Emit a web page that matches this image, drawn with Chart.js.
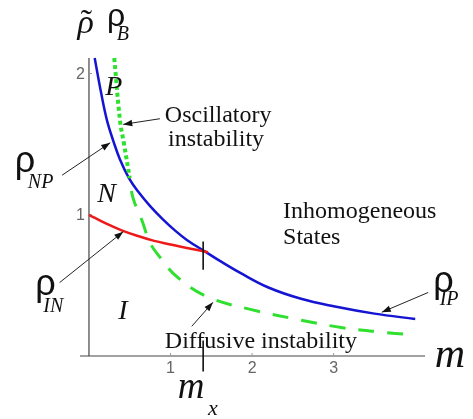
<!DOCTYPE html>
<html lang="en">
<head>
<meta charset="UTF-8">
<title>Phase diagram</title>
<script src="https://cdn.jsdelivr.net/npm/chart.js"></script>
<style>
  html, body { margin: 0; padding: 0; background: #fff; }
  canvas { display: block; }
</style>
</head>
<body>
<canvas id="phase" width="473" height="419"></canvas>
<script>
// boundary curves as (m, rho) pairs
const npipM   = [0.07, 0.15, 0.22, 0.30, 0.38, 0.49, 0.60, 0.75, 0.90, 1.05, 1.20, 1.43, 1.60, 1.85, 2.20, 2.60, 3.00, 3.50, 4.00];
const npipRho = [2.11, 1.86, 1.67, 1.52, 1.392, 1.26, 1.166, 1.061, 0.971, 0.891, 0.822, 0.737, 0.675, 0.59, 0.485, 0.405, 0.352, 0.30, 0.262];
const inM   = [0.00, 0.20, 0.40, 0.60, 0.80, 1.00, 1.20, 1.46];
const inRho = [1.00, 0.94, 0.89, 0.85, 0.815, 0.79, 0.765, 0.735];
const oscM   = [0.31, 0.38, 0.43, 0.50];
const oscRho = [2.11, 1.67, 1.50, 1.26];
const diffM   = [0.50, 0.54, 0.65, 0.75, 0.87, 1.08, 1.45, 1.98, 2.59, 3.11, 3.57, 3.95];
const diffRho = [1.26, 1.12, 0.96, 0.80, 0.70, 0.56, 0.42, 0.33, 0.255, 0.20, 0.17, 0.15];
const mx = 1.40;
const xTicks = [1, 2, 3];
const yTicks = [1, 2];

const pts = (xs, ys) => xs.map((x, i) => ({ x: x, y: ys[i] }));

const SERIF = '"Liberation Serif", "Times New Roman", serif';
const SANS = '"Liberation Sans", Arial, sans-serif';

// text placed in (m, rho) units
const notes = [
  { t: 'Oscillatory', m: 0.93, r: 1.66, f: '24px ' + SERIF },
  { t: 'instability', m: 0.97, r: 1.49, f: '24px ' + SERIF },
  { t: 'Inhomogeneous', m: 2.38, r: 0.98, f: '24px ' + SERIF },
  { t: 'States', m: 2.38, r: 0.79, f: '24px ' + SERIF },
  { t: 'Diffusive instability', m: 0.93, r: 0.06, f: '24px ' + SERIF },
  { t: 'P', m: 0.20, r: 1.85, f: 'italic 28px ' + SERIF },
  { t: 'N', m: 0.10, r: 1.09, f: 'italic 28px ' + SERIF },
  { t: 'I', m: 0.36, r: 0.26, f: 'italic 28px ' + SERIF },
  { t: 'm', m: 4.24, r: -0.08, f: 'italic 42px ' + SERIF },
  { t: 'm', m: 1.09, r: -0.30, f: 'italic 37px ' + SERIF },
  { t: 'x', m: 1.46, r: -0.42, f: 'italic 22px ' + SERIF },
  { t: 'ρ', m: -0.14, r: 2.29, f: 'italic 34px ' + SERIF },
  { t: '˜', m: -0.10, r: 2.29, f: '34px ' + SERIF },
  { t: 'ρ', m: 0.22, r: 2.34, f: '32px ' + SANS },
  { t: 'B', m: 0.34, r: 2.24, f: 'italic 20px ' + SERIF },
  { t: 'ρ', m: -0.91, r: 1.30, f: '36px ' + SANS },
  { t: 'NP', m: -0.75, r: 1.19, f: 'italic 20px ' + SERIF },
  { t: 'ρ', m: -0.66, r: 0.43, f: '36px ' + SANS },
  { t: 'IN', m: -0.56, r: 0.31, f: 'italic 20px ' + SERIF },
  { t: 'ρ', m: 4.22, r: 0.45, f: '36px ' + SANS },
  { t: 'IP', m: 4.30, r: 0.36, f: 'italic 20px ' + SERIF }
];

// pointer arrows: tail -> head, in (m, rho) units
const pointers = [
  [0.87, 1.68, 0.42, 1.64],
  [-0.33, 1.28, 0.26, 1.51],
  [-0.36, 0.52, 0.42, 0.88],
  [1.26, 0.21, 1.52, 0.38],
  [4.16, 0.45, 3.59, 0.31]
];

function arrow(ctx, x0, y0, x1, y1) {
  ctx.beginPath();
  ctx.moveTo(x0, y0);
  ctx.lineTo(x1, y1);
  ctx.stroke();
  const a = Math.atan2(y1 - y0, x1 - x0), L = 9, W = 3.2;
  ctx.beginPath();
  ctx.moveTo(x1, y1);
  ctx.lineTo(x1 - L * Math.cos(a) + W * Math.sin(a), y1 - L * Math.sin(a) - W * Math.cos(a));
  ctx.lineTo(x1 - L * Math.cos(a) - W * Math.sin(a), y1 - L * Math.sin(a) + W * Math.cos(a));
  ctx.closePath();
  ctx.fill();
}

const axesPlugin = {
  id: 'axesPlugin',
  beforeDatasetsDraw(chart) {
    const { ctx, scales: { x, y } } = chart;
    const x0 = x.getPixelForValue(0), y0 = y.getPixelForValue(0);
    ctx.save();
    ctx.strokeStyle = '#444';
    ctx.lineWidth = 1.2;
    ctx.beginPath();
    ctx.moveTo(x.left, y0); ctx.lineTo(x.right, y0);
    ctx.moveTo(x0, y0); ctx.lineTo(x0, y.top);
    ctx.stroke();

    ctx.fillStyle = '#666';
    ctx.strokeStyle = '#999';
    ctx.lineWidth = 1;
    ctx.font = '16px ' + SANS;
    ctx.textBaseline = 'middle';
    ctx.textAlign = 'center';
    xTicks.forEach(v => {
      const p = x.getPixelForValue(v);
      ctx.beginPath(); ctx.moveTo(p, y0); ctx.lineTo(p, y0 - 3); ctx.stroke();
      ctx.fillText(String(v), p, y0 + 13);
    });
    ctx.textAlign = 'right';
    yTicks.forEach(v => {
      const p = y.getPixelForValue(v);
      ctx.beginPath(); ctx.moveTo(x0, p); ctx.lineTo(x0 + 3, p); ctx.stroke();
      ctx.fillText(String(v), x0 - 4, p + 1);
    });
    ctx.restore();
  },
  afterDatasetsDraw(chart) {
    const { ctx, scales: { x, y } } = chart;
    const X = v => x.getPixelForValue(v), Y = v => y.getPixelForValue(v);
    ctx.save();
    // m_x markers at the crossing and on the m axis
    ctx.strokeStyle = '#111';
    ctx.lineWidth = 1.6;
    ctx.beginPath();
    ctx.moveTo(X(mx), Y(0.81)); ctx.lineTo(X(mx), Y(0.61));
    ctx.moveTo(X(mx), Y(0.11)); ctx.lineTo(X(mx), Y(-0.11));
    ctx.stroke();

    ctx.strokeStyle = '#222';
    ctx.fillStyle = '#111';
    ctx.lineWidth = 1;
    pointers.forEach(p => arrow(ctx, X(p[0]), Y(p[1]), X(p[2]), Y(p[3])));

    ctx.textBaseline = 'alphabetic';
    ctx.textAlign = 'left';
    notes.forEach(n => {
      ctx.font = n.f;
      ctx.fillText(n.t, X(n.m), Y(n.r));
    });
    ctx.restore();
  }
};

new Chart(document.getElementById('phase'), {
  type: 'line',
  data: {
    datasets: [
      { data: pts(diffM, diffRho), borderColor: '#2fe02f', borderWidth: 3, borderDash: [16, 13], borderDashOffset: 16 },
      { data: pts(oscM, oscRho), borderColor: '#2fe02f', borderWidth: 4, borderDash: [4, 3] },
      { data: pts(inM, inRho), borderColor: '#ee1a1a', borderWidth: 2.5 },
      { data: pts(npipM, npipRho), borderColor: '#1414d2', borderWidth: 2.5 }
    ]
  },
  options: {
    responsive: false,
    animation: false,
    devicePixelRatio: 1,
    layout: { padding: { left: 80, right: 48, top: 58, bottom: 63 } },
    elements: {
      point: { radius: 0 },
      line: { tension: 0.4, fill: false, borderCapStyle: 'butt' }
    },
    clip: false,
    scales: {
      x: { type: 'linear', min: -0.11, max: 4.12, display: false },
      y: { type: 'linear', min: 0, max: 2.11, display: false }
    },
    plugins: { legend: { display: false }, tooltip: { enabled: false } }
  },
  plugins: [axesPlugin]
});
</script>
</body>
</html>
